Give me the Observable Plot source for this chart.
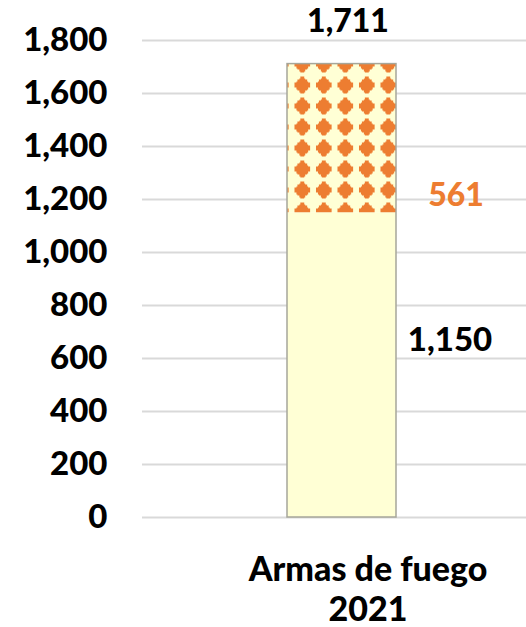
<!DOCTYPE html>
<html>
<head>
<meta charset="utf-8">
<script src="https://cdn.jsdelivr.net/npm/d3@7"></script>
<script src="https://cdn.jsdelivr.net/npm/@observablehq/plot@0.6"></script>
<style>
  html, body { margin: 0; padding: 0; background: #fff; }
  #chart svg { display: block; }
</style>
</head>
<body>
<div id="chart"></div>
<script>
// ---- data ----
const categories = ["Armas de fuego"];
const years = ["2021"];
const segmentNames = ["base", "adicional"];
const segmentValues = [1150, 561];
const totalValue = 1711;
const yTicks = [0, 200, 400, 600, 800, 1000, 1200, 1400, 1600, 1800];

const segments = segmentNames.map((s, i) => ({ cat: categories[0], seg: s, value: segmentValues[i] }));
const fills = { base: "#FFFFD5", adicional: "url(#diamonds)" };
const totals = [{ cat: categories[0], value: totalValue }];

const font = "Lato, 'DejaVu Sans', sans-serif";
const W = 900;

const svg = Plot.plot({
  width: 526,
  height: 627,
  marginLeft: 142,
  marginRight: 0,
  marginTop: 40,
  marginBottom: 110,
  style: { fontFamily: font, fontWeight: W, fontSize: "33px", color: "#000", background: "#fff", overflow: "visible" },
  x: { type: "band", domain: categories, range: [287, 396], padding: 0, axis: null },
  y: { domain: [0, 1800], ticks: yTicks, axis: null },
  color: { type: "identity" },
  marks: [
    Plot.ruleY(yTicks, { stroke: "#D9D9D9", strokeWidth: 2 }),
    Plot.barY(segments, Plot.stackY({ x: "cat", y: "value", fill: d => fills[d.seg] })),
    Plot.barY(totals, { x: "cat", y: "value", fill: "none", stroke: "#A6A69A", strokeWidth: 1.5 }),
    Plot.axisY({ ticks: yTicks, tickSize: 0, tickPadding: 35, tickFormat: d3.format(","), fontSize: 33, fontWeight: W, label: null }),
    Plot.text(totals, { x: "cat", y: "value", text: d => d3.format(",")(d.value), dx: 6, dy: -42, fontSize: 32, fontWeight: W, fill: "#000" }),
    Plot.text(segments.filter(d => d.seg === "adicional"), { x: "cat", y: segmentValues[0], text: d => d3.format(",")(d.value), dx: 114, dy: -17, fontSize: 32, fontWeight: W, fill: "#ED7D31" }),
    Plot.text(segments.filter(d => d.seg === "base"), { x: "cat", y: d => d.value / 2, text: d => d3.format(",")(d.value), dx: 108, dy: -25, fontSize: 33, fontWeight: W, fill: "#000" }),
    Plot.text(categories, { x: d => d, y: 0, text: (d, i) => d + "\n" + years[i], lineAnchor: "top", lineHeight: 1.17, dx: 26, dy: 35, fontSize: 34, fontWeight: W, fill: "#000" })
  ]
});

// pattern definition for the upper segment (orange stepped diamonds on cream)
const tw = 21.5, th = 21, cx = tw / 2, cy = th / 2;
// [|dy| outer edge of band, half-width], from the tip inward
const steps = [[8.5, 1.5], [7, 3], [5.5, 4.5], [4, 6], [2.5, 7.5], [1, 8]];
const right = [];
for (let i = 0; i < steps.length; i++) {
  const [yo, hw] = steps[i];
  const yIn = i + 1 < steps.length ? steps[i + 1][0] : 0;
  right.push([hw, -yo], [hw, -yIn]);
}
const rightFull = right.concat(right.slice().reverse().map(([x, y]) => [x, -y]));
const leftFull = rightFull.slice().reverse().map(([x, y]) => [-x, y]);
const poly = rightFull.concat(leftFull).map(([x, y]) => `${cx + x},${cy + y}`).join(" ");

const defs = d3.select(svg).insert("defs", ":first-child");
const pat = defs.append("pattern")
  .attr("id", "diamonds")
  .attr("patternUnits", "userSpaceOnUse")
  .attr("width", tw).attr("height", th)
  .attr("patternTransform", `translate(${302.3 - cx},${64 - cy})`);
pat.append("rect").attr("width", tw).attr("height", th).attr("fill", "#FFFFD5");
pat.append("polygon").attr("points", poly).attr("fill", "#ED7D31").attr("shape-rendering", "crispEdges");

document.getElementById("chart").appendChild(svg);
</script>
</body>
</html>
